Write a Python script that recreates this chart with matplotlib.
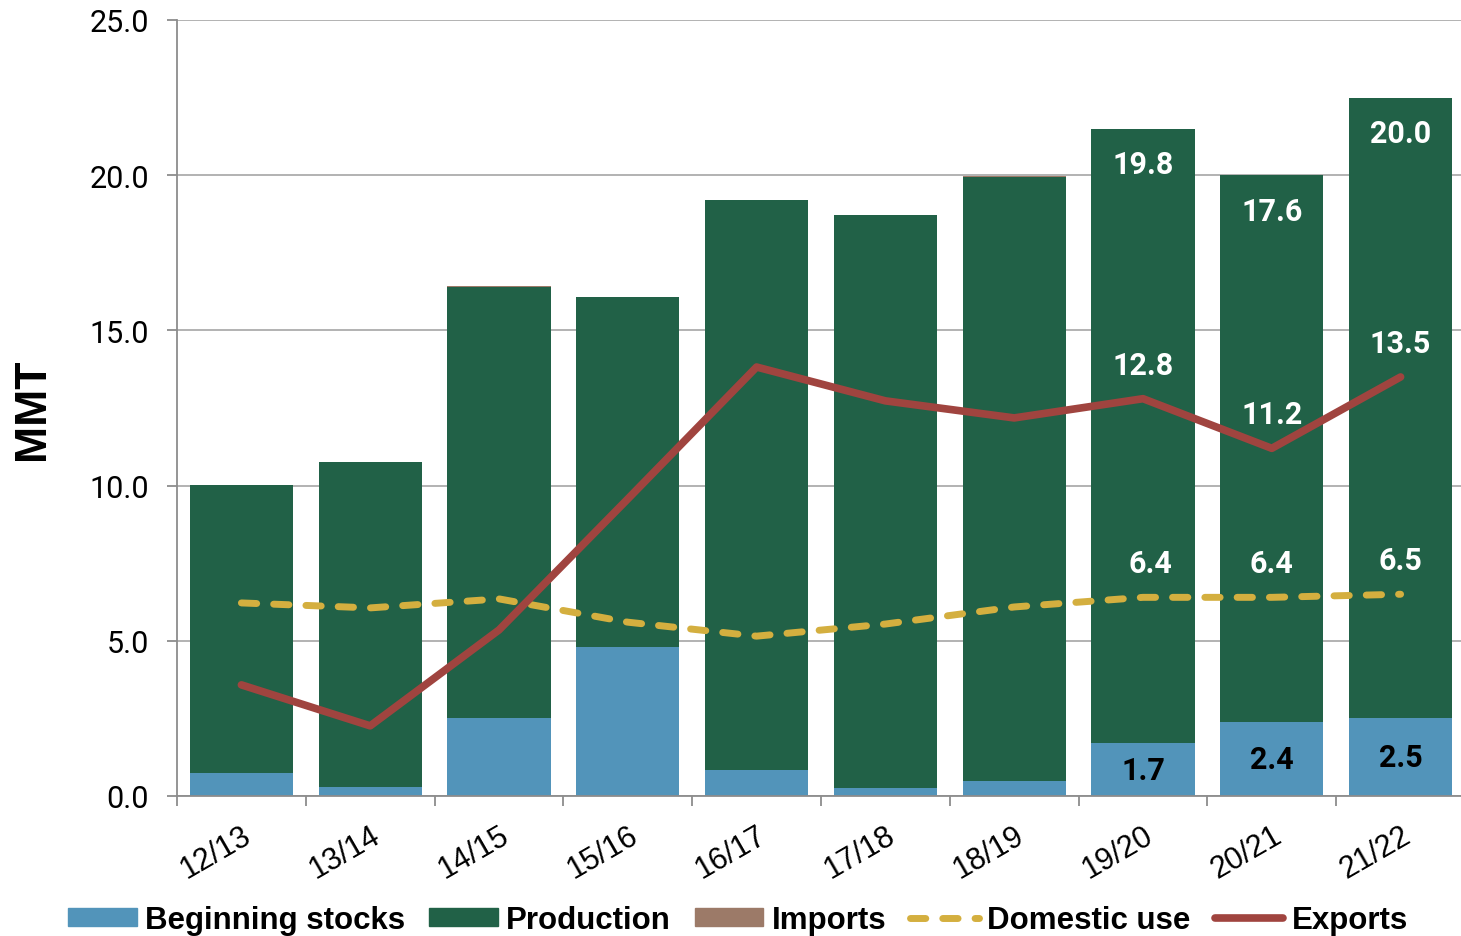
import matplotlib.pyplot as plt
from matplotlib.patches import Patch
from matplotlib.lines import Line2D
import numpy as np

years = ['12/13', '13/14', '14/15', '15/16', '16/17', '17/18', '18/19', '19/20', '20/21', '21/22']
beginning_stocks = [0.74, 0.29, 2.51, 4.80, 0.84, 0.26, 0.48, 1.7, 2.4, 2.5]
production = [9.28, 10.47, 13.88, 11.26, 18.36, 18.46, 19.47, 19.8, 17.6, 20.0]
imports = [0.01, 0.01, 0.05, 0.02, 0.01, 0.01, 0.02, 0.0, 0.0, 0.0]
domestic_use = [6.22, 6.06, 6.35, 5.60, 5.15, 5.54, 6.09, 6.4, 6.4, 6.5]
exports = [3.58, 2.26, 5.35, 9.57, 13.82, 12.73, 12.18, 12.8, 11.2, 13.5]
labelled = [7, 8, 9]

c_bs = '#5294BA'
c_prod = '#216147'
c_imp = '#9C7A68'
c_dom = '#D4AF3F'
c_exp = '#A0443F'

narrow = ['Liberation Sans Narrow', 'Roboto']
plt.rcParams['font.family'] = ['Liberation Sans', 'DejaVu Sans']

fig = plt.figure(figsize=(14.61, 9.37), dpi=100)
ax = fig.add_axes([177 / 1461, 140 / 937, 1288 / 1461, 776 / 937])

x = np.arange(len(years))
bs = np.array(beginning_stocks)
pr = np.array(production)
im = np.array(imports)
w = 0.8
ax.bar(x, bs, w, color=c_bs, zorder=2)
ax.bar(x, pr, w, bottom=bs, color=c_prod, zorder=2)
ax.bar(x, im, w, bottom=bs + pr, color=c_imp, zorder=2)

ax.plot(x, domestic_use, color=c_dom, lw=5, dashes=(2.2, 2.45),
        dash_capstyle='round', zorder=3)
ax.plot(x, exports, color=c_exp, lw=5.5, solid_capstyle='round',
        solid_joinstyle='round', zorder=4)

lab = dict(ha='center', va='center', fontsize=22, fontweight='bold', family=narrow, zorder=5)
for i in labelled:
    total = bs[i] + pr[i] + im[i]
    ax.text(i, total - 1.15, f'{pr[i]:.1f}', color='white', **lab)
    ax.text(i, bs[i] / 2, f'{bs[i]:.1f}', color='black', **lab)
    ax.text(i, exports[i] + 1.1, f'{exports[i]:.1f}', color='white', **lab)
    ax.text(i + (0.06 if i == 7 else 0), domestic_use[i] + 1.1,
            f'{domestic_use[i]:.1f}', color='white', **lab)

ax.set_ylim(0, 25)
ax.set_xlim(-0.5, 9.5)
ax.set_yticks(np.arange(0, 25.1, 5))
ax.set_yticklabels([f'{v:.1f}' for v in np.arange(0, 25.1, 5)], family=narrow, fontsize=22)
ax.yaxis.grid(True, color='#ADADAD', lw=1.3, zorder=0)
ax.set_axisbelow(True)

ax.set_xticks(x)
ax.set_xticklabels(years, rotation=30, ha='right', rotation_mode='anchor', fontsize=22)
ax.set_xticks(np.arange(-0.5, 9.6, 1), minor=True)
ax.tick_params(axis='x', which='major', length=0, pad=17)
ax.tick_params(axis='x', which='minor', length=7, width=1.3, color='#8C8C8C', direction='out')
ax.tick_params(axis='y', length=7, width=1.3, color='#8C8C8C', pad=13)

for s in ['top', 'right']:
    ax.spines[s].set_visible(False)
for s in ['left', 'bottom']:
    ax.spines[s].set_color('#8C8C8C')
    ax.spines[s].set_linewidth(1.3)

ax.set_ylabel('MMT', fontsize=32, fontweight='bold', labelpad=26)

handles = [Patch(color=c_bs, label='Beginning stocks'),
           Patch(color=c_prod, label='Production'),
           Patch(color=c_imp, label='Imports'),
           Line2D([], [], color=c_dom, lw=5, dashes=(2.2, 2.45), dash_capstyle='round',
                  label='Domestic use'),
           Line2D([], [], color=c_exp, lw=5.5, solid_capstyle='round', label='Exports')]
fig.legend(handles=handles, loc='center', bbox_to_anchor=(0.505, 0.017), ncol=5,
           frameon=False, prop={'size': 22.5, 'weight': 'bold'}, handlelength=2.2,
           handleheight=0.5, handletextpad=0.26, columnspacing=0.77, borderpad=0)

fig.savefig('out.png', dpi=100)
